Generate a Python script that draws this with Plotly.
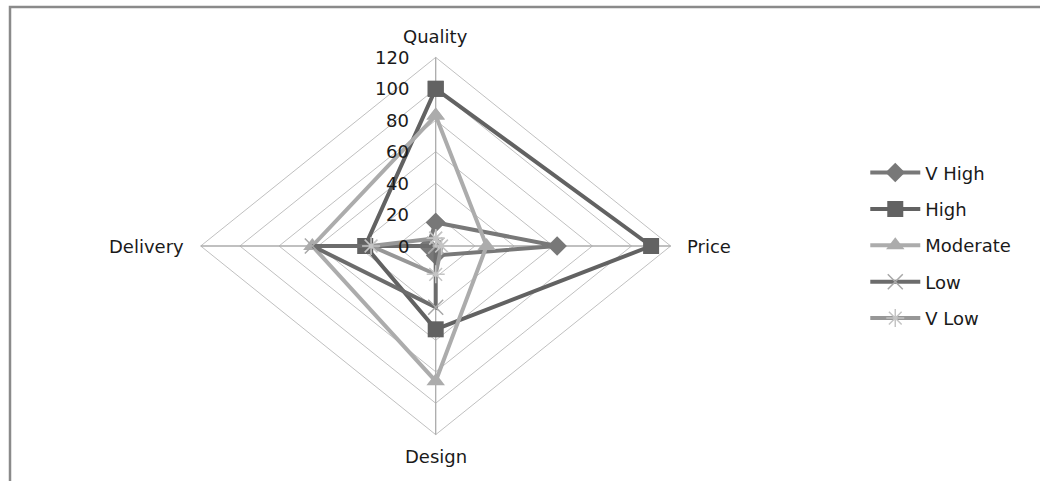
import plotly.graph_objects as go

# ---- data ----
categories = ["Quality", "Price", "Design", "Delivery"]
tick_values = [0, 20, 40, 60, 80, 100, 120]
tick_labels = ["0", "20", "40", "60", "80", "100", "120"]
series_names = ["V High", "High", "Moderate", "Low", "V Low"]
v_high = [15, 62, 6, 4]
high = [100, 110, 53, 36]
moderate = [83, 26, 86, 63]
low = [0, 0, 39, 63]
v_low = [5, 3, 18, 33]

# ---- styles ----
FONT = "DejaVu Sans"
styles = {
    "V High": dict(color="#787878", symbol="diamond", msize=15, mcolor="#787878", mline=0),
    "High": dict(color="#626262", symbol="square", msize=16, mcolor="#626262", mline=0),
    "Moderate": dict(color="#acacac", symbol="triangle-up", msize=16, mcolor="#acacac", mline=0),
    "Low": dict(color="#6c6c6c", symbol="x-thin", msize=15, mcolor="#a8a8a8", mline=1.5),
    "V Low": dict(color="#979797", symbol="asterisk", msize=15, mcolor="#c4c4c4", mline=1.5),
}

# Cartesian mapping of the 4 radar spokes: Quality up, Price right, Design down, Delivery left
directions = {"Quality": (0, 1), "Price": (1, 0), "Design": (0, -1), "Delivery": (-1, 0)}


def to_xy(values):
    xs, ys = [], []
    for cat, v in zip(categories, values):
        dx, dy = directions[cat]
        xs.append(dx * v)
        ys.append(dy * v)
    xs.append(xs[0])
    ys.append(ys[0])
    return xs, ys


fig = go.Figure()

# grid diamonds
gx, gy = [], []
for v in tick_values[1:]:
    xs, ys = to_xy([v] * len(categories))
    gx += xs + [None]
    gy += ys + [None]
fig.add_trace(go.Scatter(x=gx, y=gy, mode="lines", line=dict(color="#c0c0c0", width=1),
                         hoverinfo="skip", showlegend=False))
# spokes
sx, sy = [], []
rmax = tick_values[-1]
for cat in categories:
    dx, dy = directions[cat]
    sx += [0, dx * rmax, None]
    sy += [0, dy * rmax, None]
fig.add_trace(go.Scatter(x=sx, y=sy, mode="lines", line=dict(color="#ababab", width=1.3),
                         hoverinfo="skip", showlegend=False))

for name, vals in zip(series_names, [v_high, high, moderate, low, v_low]):
    st = styles[name]
    xs, ys = to_xy(vals)
    marker = dict(symbol=st["symbol"], size=st["msize"], color=st["mcolor"])
    if st["mline"]:
        marker["line"] = dict(color=st["mcolor"], width=st["mline"])
    fig.add_trace(go.Scatter(
        x=xs, y=ys, mode="lines+markers", name=name, legendgroup=name,
        line=dict(color=st["color"], width=4), marker=marker,
    ))

annotations = []
for v, lab in zip(tick_values, tick_labels):
    annotations.append(dict(x=0, y=v, text=lab, showarrow=False, xanchor="right", yanchor="middle",
                            xshift=-25, font=dict(family=FONT, size=18, color="#1a1a1a")))
label_pos = {
    "Quality": dict(xanchor="center", yanchor="bottom", yshift=8),
    "Price": dict(xanchor="left", yanchor="middle", xshift=14),
    "Design": dict(xanchor="center", yanchor="top", yshift=-9),
    "Delivery": dict(xanchor="right", yanchor="middle", xshift=-15),
}
for cat in categories:
    dx, dy = directions[cat]
    annotations.append(dict(x=dx * rmax, y=dy * rmax, text=cat, showarrow=False,
                            font=dict(family=FONT, size=18, color="#1a1a1a"), **label_pos[cat]))

fig.update_layout(
    width=1040, height=481, autosize=False,
    margin=dict(l=0, r=0, t=0, b=0),
    paper_bgcolor="white", plot_bgcolor="white",
    xaxis=dict(range=[-222.5, 308.6], visible=False, fixedrange=True),
    yaxis=dict(range=[-149.5, 156.5], visible=False, fixedrange=True),
    annotations=annotations,
    showlegend=True,
    legend=dict(x=0.832, y=0.49, xanchor="left", yanchor="middle", bgcolor="rgba(0,0,0,0)",
                font=dict(family=FONT, size=18, color="#1a1a1a"), itemwidth=50,
                traceorder="grouped", tracegroupgap=10),
    shapes=[dict(type="rect", xref="paper", yref="paper", x0=10 / 1040, x1=1.02, y0=-0.02,
                 y1=1 - 7 / 481, line=dict(color="#8a8a8a", width=2.5), fillcolor="rgba(0,0,0,0)")],
)

fig.write_html("out.html")
